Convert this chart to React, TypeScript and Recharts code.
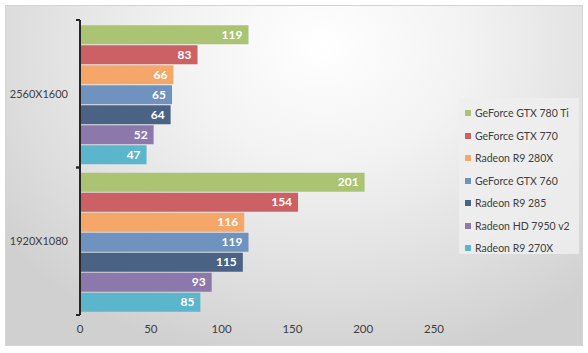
import React from "react";
import { BarChart, Bar, XAxis, YAxis, LabelList } from "recharts";

const categories = ["2560X1600", "1920X1080"];
const gtx780ti = [119, 201];
const gtx770 = [83, 154];
const r9280x = [66, 116];
const gtx760 = [65, 119];
const r9285 = [64, 115];
const hd7950 = [52, 93];
const r9270x = [47, 85];
const xTicks = [0, 50, 100, 150, 200, 250];

const SERIES = [
  { key: "gtx780ti", name: "GeForce GTX 780 Ti", color: "#abc473", values: gtx780ti },
  { key: "gtx770", name: "GeForce GTX 770", color: "#cb6164", values: gtx770 },
  { key: "r9280x", name: "Radeon R9 280X", color: "#f5a76a", values: r9280x },
  { key: "gtx760", name: "GeForce GTX 760", color: "#6f92bf", values: gtx760 },
  { key: "r9285", name: "Radeon R9 285", color: "#4a6384", values: r9285 },
  { key: "hd7950", name: "Radeon HD 7950 v2", color: "#8d78ab", values: hd7950 },
  { key: "r9270x", name: "Radeon R9 270X", color: "#5bb6cb", values: r9270x },
];

const data = categories.map((cat, i) => {
  const row: any = { cat };
  SERIES.forEach(s => { row[s.key] = s.values[i]; });
  return row;
});

const FONT = "Lato, 'Open Sans', sans-serif";
const W = 578;
const H = 341;
const M = { top: 15, right: 149, bottom: 6, left: 0 };
const X_H = 25;
const HALF_BAND = (H - M.top - M.bottom - X_H) / categories.length / 2;

// category label plus the little boundary tick marks Excel draws between groups
function CatTick(props: any) {
  const { x, y, payload } = props;
  return (
    <g>
      <text x={x - 12} y={y} dy="0.35em" textAnchor="end" fontSize={11} fill="#404040" fontFamily={FONT}>
        {payload.value}
      </text>
      <line x1={x - 4} x2={x} y1={y - HALF_BAND} y2={y - HALF_BAND} stroke="#262626" strokeWidth={2} />
      <line x1={x - 4} x2={x} y1={y + HALF_BAND} y2={y + HALF_BAND} stroke="#262626" strokeWidth={2} />
    </g>
  );
}

export default function App() {
  return (
    <div style={{ position: "fixed", left: 0, top: 0, width: 588, height: 353, background: "#fff" }}>
      <div
        style={{
          position: "absolute",
          left: 5,
          top: 5,
          width: W,
          height: H,
          boxSizing: "border-box",
          border: "1px solid #d4d4d4",
          background: "radial-gradient(ellipse 70% 95% at 55% 12%, #ffffff 0%, #f3f3f3 35%, #dedede 75%, #d0d0d0 100%)",
        }}
      >
        <div style={{ position: "absolute", left: -1, top: -1 }}>
          <BarChart
            width={W}
            height={H}
            data={data}
            layout="vertical"
            margin={M}
            barCategoryGap="3.5%"
            barGap={1}
          >
            <XAxis
              type="number"
              domain={[0, 250]}
              ticks={xTicks}
              axisLine={false}
              tickLine={false}
              height={X_H}
              tickMargin={4}
              tick={{ fontSize: 11.5, fill: "#404040", fontFamily: FONT }}
            />
            <YAxis
              type="category"
              dataKey="cat"
              width={75}
              axisLine={{ stroke: "#262626", strokeWidth: 2 }}
              tickLine={false}
              tickSize={0}
              tickMargin={0}
              tick={<CatTick />}
            />
            {SERIES.map(s => (
              <Bar key={s.key} dataKey={s.key} name={s.name} fill={s.color} isAnimationActive={false}>
                <LabelList
                  dataKey={s.key}
                  position="insideRight"
                  offset={6}
                  fill="#ffffff"
                  fontSize={12}
                  fontWeight="bold"
                  fontFamily={FONT}
                />
              </Bar>
            ))}
          </BarChart>
        </div>
        <div
          style={{
            position: "absolute",
            left: 453,
            top: 92,
            width: 120,
            height: 156,
            background: "rgba(238,238,238,0.85)",
            paddingTop: 4,
            boxSizing: "border-box",
            fontFamily: FONT,
          }}
        >
          {SERIES.map(s => (
            <div key={s.key} style={{ display: "flex", alignItems: "center", height: 22.5, paddingLeft: 6 }}>
              <span style={{ width: 6, height: 6, background: s.color, marginRight: 4, flexShrink: 0 }} />
              <span style={{ fontSize: 10.5, color: "#404040", whiteSpace: "nowrap" }}>{s.name}</span>
            </div>
          ))}
        </div>
      </div>
    </div>
  );
}
